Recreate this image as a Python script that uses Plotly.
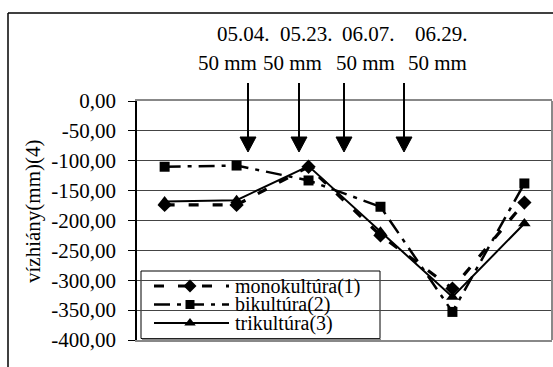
import plotly.graph_objects as go

# ---- data ----
categories = ["1", "2", "3", "4", "5", "6"]
mono = [-174, -174, -110, -225, -314, -170]
bi = [-110, -108, -133, -177, -353, -138]
tri = [-168, -166, -109, -219, -328, -205]
y_ticks = [0, -50, -100, -150, -200, -250, -300, -350, -400]
y_tick_labels = ["0,00", "-50,00", "-100,00", "-150,00", "-200,00",
                 "-250,00", "-300,00", "-350,00", "-400,00"]
series_names = ["monokultúra(1)", "bikultúra(2)", "trikultúra(3)"]
date_labels = ["05.04.", "05.23.", "06.07.", "06.29."]
amount_labels = ["50 mm", "50 mm", "50 mm", "50 mm"]
y_title = "vízhiány(mm)(4)"

# ---- layout geometry (pixels) ----
W, H = 553, 367
L, R, T, B = 137, 552, 101, 340
PW, PH = R - L, B - T


def fx(px):
    return (px - L) / PW


def fy(py):
    return (B - py) / PH


FONT = "Liberation Serif"
FS = 21

styles = [
    dict(dash="10px,14px", width=3.2, symbol="diamond", size=11),
    dict(dash="16px,7px,4px,7px", width=2.5, symbol="square", size=10),
    dict(dash="solid", width=2, symbol="triangle-up", size=11),
]

fig = go.Figure()
for vals, name, st in zip([mono, bi, tri], series_names, styles):
    fig.add_trace(go.Scatter(
        x=categories, y=vals, mode="lines+markers", name=name,
        line=dict(color="black", width=st["width"], dash=st["dash"]),
        marker=dict(color="black", symbol=st["symbol"], size=st["size"]),
        showlegend=False, cliponaxis=False))

# ---- custom legend (on overlay axes spanning the plot area) ----
leg_rows_py = [286, 304.5, 323]
leg_x0, leg_x1, leg_mx = fx(154), fx(229), fx(190)
for name, st, py in zip(series_names, styles, leg_rows_py):
    fig.add_trace(go.Scatter(
        x=[leg_x0, leg_x1], y=[fy(py), fy(py)], mode="lines",
        line=dict(color="black", width=st["width"], dash=st["dash"]),
        xaxis="x2", yaxis="y2", showlegend=False, hoverinfo="skip"))
    fig.add_trace(go.Scatter(
        x=[leg_mx], y=[fy(py)], mode="markers",
        marker=dict(color="black", symbol=st["symbol"], size=st["size"] - 1),
        xaxis="x2", yaxis="y2", showlegend=False, hoverinfo="skip"))

shapes = []
# legend box
shapes.append(dict(type="rect", xref="paper", yref="paper",
                   x0=fx(141), x1=fx(380), y0=fy(338.5), y1=fy(271),
                   line=dict(color="black", width=1), fillcolor="white",
                   layer="between"))
shapes.append(dict(type="line", xref="paper", yref="paper",
                   x0=fx(142), x1=fx(381), y0=fy(339.5), y1=fy(339.5),
                   line=dict(color="#888", width=1.5), layer="between"))
# right border of the plot area
shapes.append(dict(type="line", xref="paper", yref="paper",
                   x0=1, x1=1, y0=0, y1=1, line=dict(color="#888", width=2)))
# outer frame
shapes.append(dict(type="line", xref="paper", yref="paper",
                   x0=fx(8), x1=fx(553), y0=fy(13), y1=fy(13),
                   line=dict(color="black", width=1.5)))
shapes.append(dict(type="line", xref="paper", yref="paper",
                   x0=fx(8), x1=fx(8), y0=fy(13), y1=fy(370),
                   line=dict(color="black", width=1.5)))

# irrigation arrows
arrow_px = [248, 299, 344, 404]
for ax in arrow_px:
    shapes.append(dict(type="line", xref="paper", yref="paper",
                       x0=fx(ax), x1=fx(ax), y0=fy(83), y1=fy(140),
                       line=dict(color="black", width=2)))
    shapes.append(dict(type="path", xref="paper", yref="paper",
                       path=f"M {fx(ax-8)} {fy(137)} L {fx(ax+8)} {fy(137)} L {fx(ax)} {fy(152)} Z",
                       fillcolor="black", line=dict(color="black", width=1)))

annotations = []
date_px = [243, 306, 368, 441]
amount_px = [227, 292, 365, 437]
for t, px in zip(date_labels, date_px):
    annotations.append(dict(text=t, x=fx(px), y=fy(34), xref="paper", yref="paper",
                            showarrow=False, xanchor="center", yanchor="middle",
                            font=dict(family=FONT, size=FS, color="black")))
for t, px in zip(amount_labels, amount_px):
    annotations.append(dict(text=t, x=fx(px), y=fy(63), xref="paper", yref="paper",
                            showarrow=False, xanchor="center", yanchor="middle",
                            font=dict(family=FONT, size=FS, color="black")))
for name, py in zip(series_names, leg_rows_py):
    annotations.append(dict(text=name, x=fx(233), y=fy(py), xref="paper", yref="paper",
                            showarrow=False, xanchor="left", yanchor="middle",
                            font=dict(family=FONT, size=20, color="black")))
annotations.append(dict(text=y_title, x=fx(33), y=fy(211), xref="paper", yref="paper",
                        showarrow=False, textangle=-90, xanchor="center", yanchor="middle",
                        font=dict(family=FONT, size=FS, color="black")))

fig.update_layout(
    width=W, height=H,
    margin=dict(l=L, r=W - R, t=T, b=H - B, pad=0),
    paper_bgcolor="white", plot_bgcolor="white",
    font=dict(family=FONT, size=FS, color="black"),
    xaxis=dict(type="category", showticklabels=False, showgrid=False,
               ticks="", showline=True, linecolor="#888", linewidth=2,
               mirror=True, zeroline=False, fixedrange=True),
    yaxis=dict(range=[-400, 0], tickvals=y_ticks, ticktext=y_tick_labels,
               ticks="outside", ticklen=7, tickcolor="black", tickwidth=1,
               showline=True, linecolor="black", linewidth=1.5,
               showgrid=True, gridcolor="#444", gridwidth=1,
               zeroline=False, ticklabelstandoff=8,
               tickfont=dict(family=FONT, size=FS, color="black")),
    xaxis2=dict(overlaying="x", range=[0, 1], visible=False, anchor="y2"),
    yaxis2=dict(overlaying="y", range=[0, 1], visible=False, anchor="x2"),
    shapes=shapes, annotations=annotations,
    showlegend=False,
)

fig.write_html("out.html")
